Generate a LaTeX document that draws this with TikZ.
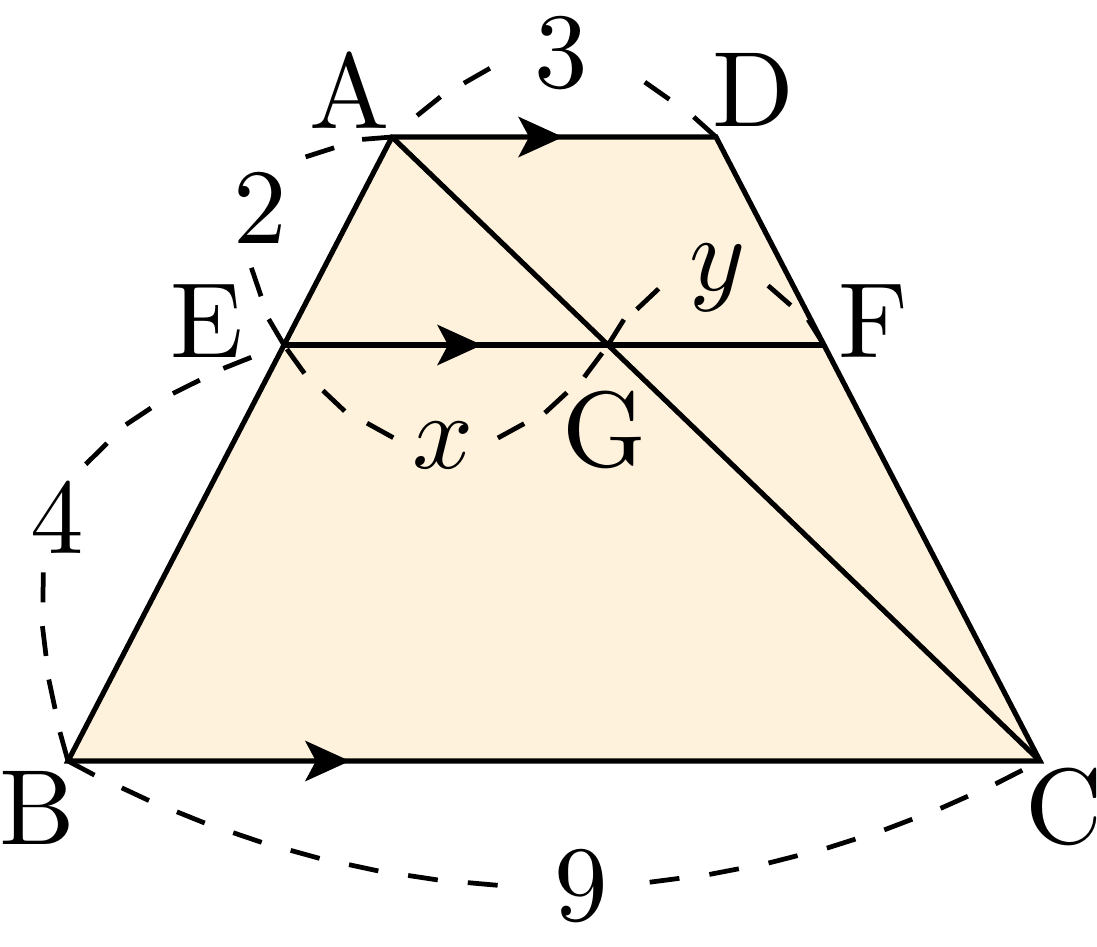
\documentclass[tikz,border=0pt]{standalone}
\usetikzlibrary{decorations.markings}
\definecolor{trap}{RGB}{254,242,220}
\tikzset{
  edge/.style={line width=1.35pt, line join=miter},
  dashseg/.style={line width=1.25pt},
  dashrun/.style n args={3}{decorate, decoration={markings,
      mark=between positions #1 and #2 step #3 with {\draw[dashseg] (0,0) -- (30,0);}}},
  ptlab/.style={scale=2.82, inner sep=0pt},
  arrowat/.style={decorate, decoration={markings, mark=at position #1 with {\fill (0,0) -- (-45,20.5) -- (-34,0) -- (-45,-20.5) -- cycle;}}}
}
\begin{document}
\begin{tikzpicture}[x=0.0092593cm,y=0.0092593cm]
\useasboundingbox (0,0) rectangle (1097,-946);
% vertices
\coordinate (A) at (392,-137);
\coordinate (D) at (716,-137);
\coordinate (E) at (284,-345);
\coordinate (F) at (824,-345);
\coordinate (G) at (608,-345);
\coordinate (B) at (68,-761);
\coordinate (C) at (1040,-761);
% fill
\fill[trap] (A) -- (D) -- (C) -- (B) -- cycle;
% dashed arcs: each drawn from both ends, leaving a gap at its label
\path[dashrun={0pt}{16.1pt}{15.81pt}] (D) to[out=138,in=42,looseness=1.27] (A);
\path[dashrun={8.69pt}{24pt}{15.02pt}] (A) to[out=42,in=138,looseness=1.27] (D);
\path[dashrun={0pt}{15.84pt}{15.54pt}] (A) to[out=184.56,in=120.56,looseness=1.46] (E);
\path[dashrun={0pt}{14.53pt}{14.23pt}] (E) to[out=120.56,in=184.56,looseness=1.46] (A);
\path[dashrun={0pt}{42.72pt}{14.15pt}] (B) to[out=105.56,in=199.56,looseness=1.31] (E);
\path[dashrun={9.22pt}{54.04pt}{14.83pt}] (E) to[out=199.56,in=105.56,looseness=1.31] (B);
\path[dashrun={0pt}{111.2pt}{15.83pt}] (B) to[out=-28,in=208,looseness=0.94] (C);
\path[dashrun={5.27pt}{100.7pt}{15.86pt}] (C) to[out=208,in=-28,looseness=0.94] (B);
\path[dashrun={1.32pt}{30.6pt}{14.49pt}] (E) to[out=-55,in=235,looseness=1.28] (G);
\path[dashrun={2.63pt}{30.86pt}{13.96pt}] (G) to[out=235,in=-55,looseness=1.28] (E);
\path[dashrun={0pt}{12.42pt}{12.12pt}] (G) to[out=58,in=122,looseness=1.3] (F);
\path[dashrun={0pt}{14pt}{13.7pt}] (F) to[out=122,in=58,looseness=1.3] (G);
% arc labels
\node[ptlab] (l3) at (561,-53) {3};
\node[ptlab] (l2) at (260,-208) {2};
\node[ptlab] (l4) at (57,-517) {4};
\node[ptlab] (l9) at (581,-886) {9};
\node[ptlab] (lx) at (443,-445) {$x$};
\node[ptlab] (ly) at (718,-278) {$y$};
% lines
\draw[edge] (A) -- (D) -- (C) -- (B) -- cycle;
\draw[edge] (E) -- (F);
\draw[edge] (A) -- (C);
% arrows
\path[arrowat=0.528] (A) -- (D);
\path[arrowat=0.3667] (E) -- (F);
\path[arrowat=0.290] (B) -- (C);
% point labels
\node[ptlab] (tA) at (350,-90) {A};
\node[ptlab] (tD) at (753,-90) {D};
\node[ptlab] (tE) at (207,-321) {E};
\node[ptlab] (tF) at (873,-321) {F};
\node[ptlab] (tG) at (604,-430) {G};
\node[ptlab] (tB) at (37,-808) {B};
\node[ptlab] (tC) at (1064,-807) {C};
\end{tikzpicture}
\end{document}
